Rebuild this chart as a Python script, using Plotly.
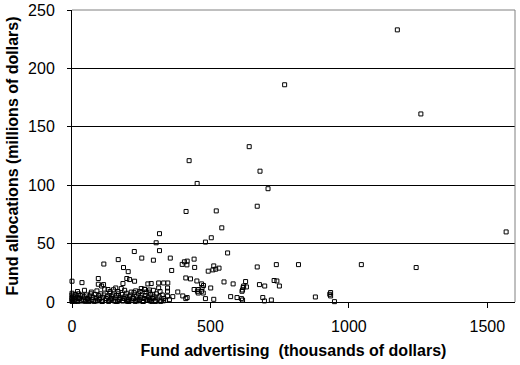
import plotly.graph_objects as go

# Scattered points (thousands of dollars advertising, millions of dollars allocations)
adv_main = [1175, 768, 1260, 1568, 640, 423, 679, 452, 708, 412, 521, 669, 541, 316, 503, 482,
            304, 316, 562, 225, 252, 294, 167, 355, 441, 115, 398, 406, 416, 415, 443, 360,
            492, 509, 519, 531, 512, 186, 203, 669, 738, 818, 1045, 1243,
            0, 36, 95, 95, 114, 107, 184, 198, 208, 226, 274, 286, 158, 130, 250, 262, 280,
            411, 428, 451, 468, 475, 470, 456, 501, 549, 582, 618, 614, 313, 331, 346, 313,
            345, 345, 382, 441, 453, 468, 456, 474, 364, 400, 411, 416, 482, 512, 573, 596,
            612, 627, 620, 630, 616, 677, 696, 730, 740, 749, 616, 689, 695, 720, 879, 931,
            934, 934, 948]
alloc_main = [233, 186, 161, 60, 133, 121, 112, 101.5, 97, 77.5, 78, 82, 63.5, 58.5, 55, 51.3,
              50.7, 44, 42, 43.2, 37.6, 35.8, 36.3, 37.6, 36.7, 32.5, 32.2, 34.4, 35, 31.8, 29.6, 27,
              26.4, 27.5, 28.1, 29, 30.9, 29.5, 26, 30, 32, 32, 32, 29.5,
              17.8, 16.6, 20.1, 15.2, 14.9, 13.7, 15.8, 20.1, 19.2, 17.8, 15.5, 15.8, 12, 10.7, 11.5, 10.7, 10.3,
              20.6, 19.8, 18, 15.5, 14.1, 12.4, 10.7, 12, 17.2, 15.5, 12.4, 9.2, 16.3, 16.3, 16.3, 12,
              12, 9.2, 8.6, 10.7, 9.2, 9.2, 7.7, 7.7, 4.6, 5.2, 2.9, 3.8, 2.9, 2.3, 4.6, 3.8,
              2.9, 17.5, 13.7, 12.9, 10.3, 14.9, 13.7, 18.4, 18, 13.7, 1.7, 3.8, 0.9, 1.7, 4.3, 6.6,
              8.1, 5.2, 0.3]

# Dense cluster of small funds near the origin
adv_small = [0, 0, 0, 0, 0, 0, 3, 6, 9, 12, 15, 18, 21, 24, 27, 30, 33, 36, 40, 44,
             48, 52, 56, 60, 64, 68, 72, 76, 80, 84, 88, 92, 96, 100, 104, 108, 112, 116, 120, 124,
             128, 132, 136, 140, 144, 148, 152, 156, 160, 164, 168, 172, 176, 180, 184, 188, 192, 196, 200, 204,
             208, 212, 216, 220, 224, 228, 232, 236, 240, 244, 248, 252, 256, 260, 264, 268, 272, 276, 280, 284,
             288, 292, 296, 300, 305, 310, 315, 320, 326, 332, 338, 345, 352, 20, 45, 70, 90, 118, 138, 150,
             166, 178, 190, 214, 230, 246, 262, 278, 294, 318, 10, 35, 62, 86, 110, 134, 158, 182, 206, 234,
             258, 282, 302, 330, 25, 55, 98, 142, 170, 198, 222, 242, 268, 290]
alloc_small = [0.5, 2, 4, 6, 7.5, 3, 1, 5, 2.5, 6.5, 1.5, 4, 0.5, 7, 3, 5.5, 1, 6, 2, 4.5,
               0.5, 6, 3, 1.5, 5, 7, 2, 4, 0.5, 6.5, 3.5, 1, 5.5, 2.5, 7, 0.5, 4, 6, 1.5, 3,
               5, 0.5, 7.5, 2, 4.5, 6, 1, 3.5, 5.5, 0.5, 7, 2.5, 4, 6.5, 1, 3, 5, 7.5, 0.5, 2,
               4.5, 6, 1.5, 3.5, 8, 0.5, 5, 2.5, 7, 1, 4, 6, 0.5, 3, 5.5, 8.5, 1.5, 4, 2, 6.5,
               0.5, 3.5, 5, 1, 7, 2.5, 4.5, 0.5, 6, 3, 1.5, 5, 2, 9, 10, 8.5, 9.5, 11, 9, 10.5,
               9, 11.5, 10, 8.5, 9.5, 9, 11, 8.5, 10, 9, 0.5, 1, 0.5, 1, 0.5, 1, 0.5, 1, 0.5, 1,
               0.5, 1, 0.5, 1, 3, 2, 2.5, 3, 2, 2.5, 3, 2, 2.5, 3]

x_ticks = [0, 500, 1000, 1500]
y_ticks = [0, 50, 100, 150, 200, 250]

fig = go.Figure()
fig.add_trace(go.Scatter(
    x=adv_main + adv_small, y=alloc_main + alloc_small, mode="markers",
    marker=dict(symbol="square-open", size=4, color="black", line=dict(width=1, color="black")),
    cliponaxis=False, showlegend=False))

font = "Liberation Sans, Arial, sans-serif"
fig.update_layout(
    width=520, height=365,
    margin=dict(l=72, r=5, t=10, b=63),
    paper_bgcolor="white", plot_bgcolor="white",
    font=dict(family=font, size=14, color="black"),
    xaxis=dict(range=[0, 1600], tickvals=x_ticks, ticks="outside", ticklen=5, tickcolor="black",
               showline=True, linecolor="black", linewidth=1, showgrid=False, zeroline=False,
               tickfont=dict(size=16), automargin=False, ticklabelstandoff=5,
               ticklabeloverflow="allow",
               title=dict(text="<b>Fund advertising\u00a0 (thousands of dollars)</b>",
                          font=dict(size=16), standoff=10)),
    yaxis=dict(range=[0, 250], tickvals=y_ticks, ticks="outside", ticklen=4, tickcolor="black",
               showline=True, linecolor="black", linewidth=1, showgrid=True, gridcolor="black",
               gridwidth=1, zeroline=False, tickfont=dict(size=16), automargin=False,
               ticklabelstandoff=9, ticklabeloverflow="allow",
               title=dict(text="<b>Fund allocations (millions of dollars)</b>",
                          font=dict(size=16), standoff=5)),
    shapes=[
        dict(type="line", xref="paper", yref="paper", x0=0, x1=1, y0=1, y1=1,
             line=dict(color="#808080", width=1), layer="above"),
        dict(type="line", xref="paper", yref="paper", x0=1, x1=1, y0=0, y1=1,
             line=dict(color="#808080", width=1), layer="above"),
    ],
)

# Remove the browser's default 8px body margin so the figure fills the window exactly.
fig.write_html("out.html", config={"displayModeBar": False},
               post_script="document.body.style.margin='0';")
